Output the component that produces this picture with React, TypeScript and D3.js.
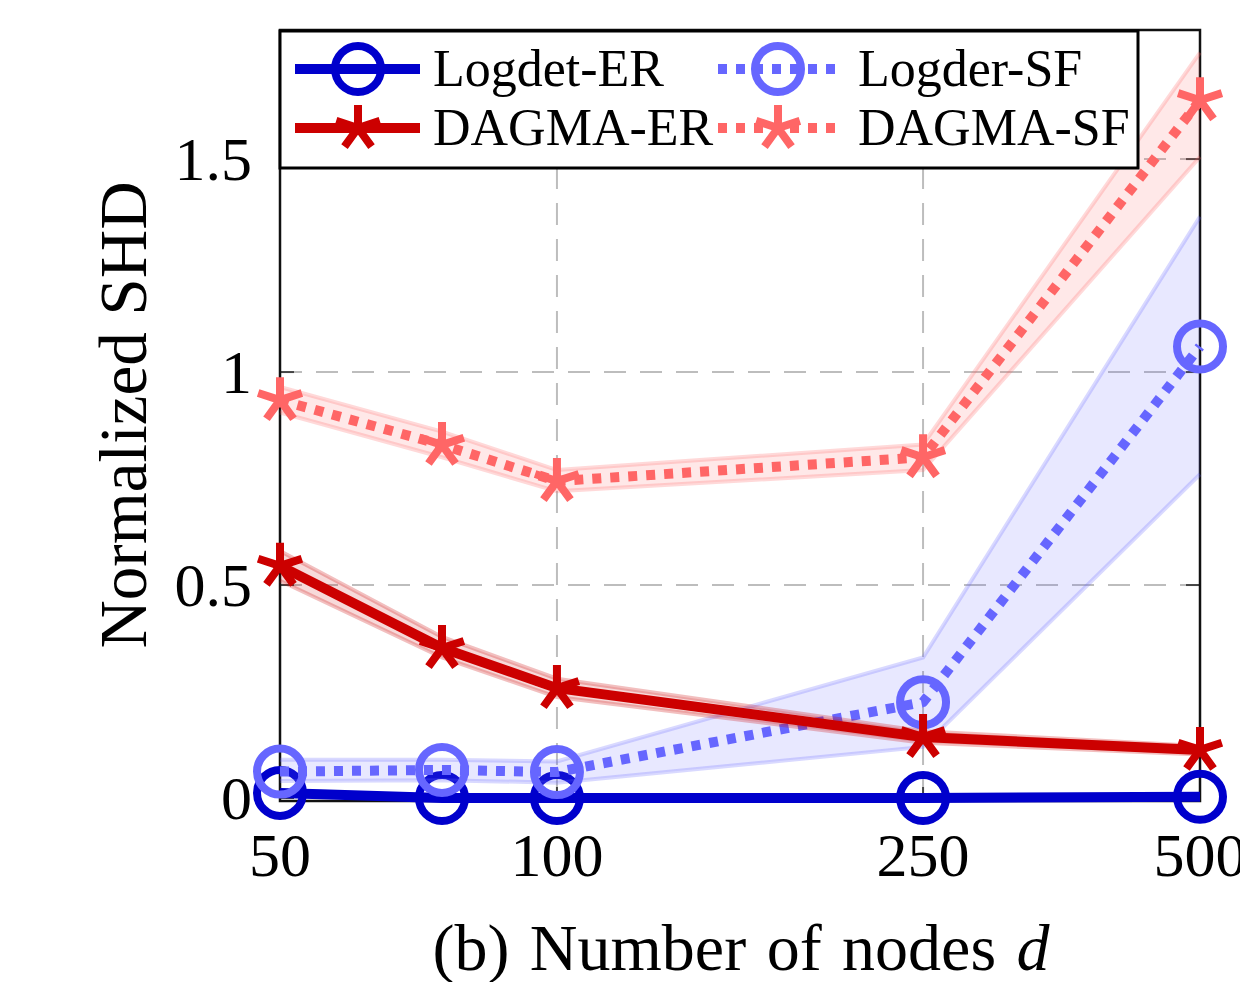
import React from 'react';
import * as d3 from 'd3';

const width = 1240;
const height = 982;

const nodes = [50, 75, 100, 250, 500];
const xTicks = [50, 100, 250, 500];
const yTicks = [0, 0.5, 1, 1.5];
const yTickLabels = ['0', '0.5', '1', '1.5'];

const logdetER = [0.012, 0.0, 0.0, 0.0, 0.003];
const logdetERLo = [0.006, 0.0, 0.0, 0.0, 0.0];
const logdetERHi = [0.018, 0.005, 0.005, 0.004, 0.008];

const logderSF = [0.062, 0.066, 0.061, 0.225, 1.06];
const logderSFLo = [0.04, 0.042, 0.036, 0.12, 0.76];
const logderSFHi = [0.09, 0.09, 0.086, 0.33, 1.365];

const dagmaER = [0.545, 0.352, 0.258, 0.143, 0.113];
const dagmaERLo = [0.51, 0.33, 0.237, 0.13, 0.102];
const dagmaERHi = [0.58, 0.378, 0.28, 0.157, 0.122];

const dagmaSF = [0.934, 0.829, 0.744, 0.8, 1.638];
const dagmaSFLo = [0.905, 0.8, 0.72, 0.77, 1.505];
const dagmaSFHi = [0.965, 0.86, 0.77, 0.83, 1.75];

const series = [
  { name: 'Logdet-ER', values: logdetER, lo: logdetERLo, hi: logdetERHi, color: '#0000cc', dotted: false, mark: 'circle' },
  { name: 'Logder-SF', values: logderSF, lo: logderSFLo, hi: logderSFHi, color: '#6666ff', dotted: true, mark: 'circle' },
  { name: 'DAGMA-ER', values: dagmaER, lo: dagmaERLo, hi: dagmaERHi, color: '#cc0000', dotted: false, mark: 'star' },
  { name: 'DAGMA-SF', values: dagmaSF, lo: dagmaSFLo, hi: dagmaSFHi, color: '#ff6666', dotted: true, mark: 'star' },
];

const left = 280;
const right = 1200;
const top = 30;
const bottom = 801;

const x = d3.scaleLog().domain([50, 500]).range([left, right]);
const y = d3.scaleLinear().domain([-0.007, 1.803]).range([bottom, top]);

const serif = { fontFamily: "'Liberation Serif', 'DejaVu Serif', serif" };
const lineW = 10;
const dash = '9 9';

const starPath = (r: number) => {
  let p = '';
  for (let k = 0; k < 5; k++) {
    const a = ((-90 + 72 * k) * Math.PI) / 180;
    p += `M0,0L${r * Math.cos(a)},${r * Math.sin(a)}`;
  }
  return p;
};

const Marker = ({ kind, color, cx, cy }: { kind: string; color: string; cx: number; cy: number }) =>
  kind === 'circle' ? (
    <circle cx={cx} cy={cy} r={23} fill="none" stroke={color} strokeWidth={8} />
  ) : (
    <path d={starPath(23)} transform={`translate(${cx},${cy})`} fill="none" stroke={color} strokeWidth={8} />
  );

const App = () => {
  const line = d3
    .line<number>()
    .x((_, i) => x(nodes[i]))
    .y((d) => y(d));

  const area = (lo: number[], hi: number[]) =>
    d3
      .area<number>()
      .x((_, i) => x(nodes[i]))
      .y0((_, i) => y(lo[i]))
      .y1((_, i) => y(hi[i]))(nodes);

  const legendRows = [
    { s: series[0], lx: 295, rx: 420, mx: 358, tx: 433, ly: 69 },
    { s: series[1], lx: 718, rx: 840, mx: 778, tx: 858, ly: 69 },
    { s: series[2], lx: 295, rx: 420, mx: 358, tx: 433, ly: 128 },
    { s: series[3], lx: 718, rx: 840, mx: 778, tx: 858, ly: 128 },
  ];

  return (
    <svg width={width} height={height} style={{ position: 'absolute', left: 0, top: 0 }}>
      <rect width={width} height={height} fill="white" />

      {/* grid */}
      <g stroke="#bdbdbd" strokeWidth={2} strokeDasharray="22 14">
        {xTicks.slice(1, -1).map((t) => (
          <line key={t} x1={x(t)} x2={x(t)} y1={bottom} y2={top} />
        ))}
        {yTicks.slice(1).map((t) => (
          <line key={t} x1={left} x2={right} y1={y(t)} y2={y(t)} />
        ))}
      </g>

      {/* ticks */}
      <g stroke="#444" strokeWidth={2}>
        {xTicks.map((t) => (
          <g key={t}>
            <line x1={x(t)} x2={x(t)} y1={bottom} y2={bottom - 14} />
            <line x1={x(t)} x2={x(t)} y1={top} y2={top + 14} />
          </g>
        ))}
        {yTicks.map((t) => (
          <g key={t}>
            <line x1={left} x2={left + 14} y1={y(t)} y2={y(t)} />
            <line x1={right} x2={right - 14} y1={y(t)} y2={y(t)} />
          </g>
        ))}
      </g>

      <rect x={left} y={top} width={right - left} height={bottom - top} fill="none" stroke="#111" strokeWidth={2.5} />

      {/* series */}
      {series.map((s) => (
        <g key={s.name}>
          <path d={area(s.lo, s.hi) || ''} fill={s.color} fillOpacity={0.15} />
          <path d={line(s.lo) || ''} fill="none" stroke={s.color} strokeOpacity={0.25} strokeWidth={4} />
          <path d={line(s.hi) || ''} fill="none" stroke={s.color} strokeOpacity={0.25} strokeWidth={4} />
          <path
            d={line(s.values) || ''}
            fill="none"
            stroke={s.color}
            strokeWidth={lineW}
            strokeDasharray={s.dotted ? dash : undefined}
            strokeLinejoin="round"
          />
          {s.values.map((v, i) => (
            <Marker key={i} kind={s.mark} color={s.color} cx={x(nodes[i])} cy={y(v)} />
          ))}
        </g>
      ))}

      {/* tick labels */}
      <g style={serif} fontSize={62} fill="#000">
        {xTicks.map((t) => (
          <text key={t} x={x(t)} y={876} textAnchor="middle">
            {t}
          </text>
        ))}
        {yTicks.map((t, i) => (
          <text key={t} x={252} y={y(t)} dy="0.34em" textAnchor="end">
            {yTickLabels[i]}
          </text>
        ))}
      </g>

      {/* legend */}
      <rect x={280} y={31} width={858} height={137} fill="white" stroke="#000" strokeWidth={3} />
      {legendRows.map(({ s, lx, rx, mx, tx, ly }) => (
        <g key={s.name}>
          <line
            x1={lx}
            x2={rx}
            y1={ly}
            y2={ly}
            stroke={s.color}
            strokeWidth={lineW}
            strokeDasharray={s.dotted ? dash : undefined}
          />
          <Marker kind={s.mark} color={s.color} cx={mx} cy={ly} />
          <text x={tx} y={ly + 17} style={serif} fontSize={52} fill="#000">
            {s.name}
          </text>
        </g>
      ))}

      {/* axis titles */}
      <text transform="translate(146,415) rotate(-90)" textAnchor="middle" style={serif} fontSize={67} fill="#000">
        Normalized SHD
      </text>
      <text x={741} y={970} textAnchor="middle" style={serif} fontSize={66} fill="#000" wordSpacing={4}>
        (b) Number of nodes <tspan fontStyle="italic">d</tspan>
      </text>
    </svg>
  );
};

export default App;
